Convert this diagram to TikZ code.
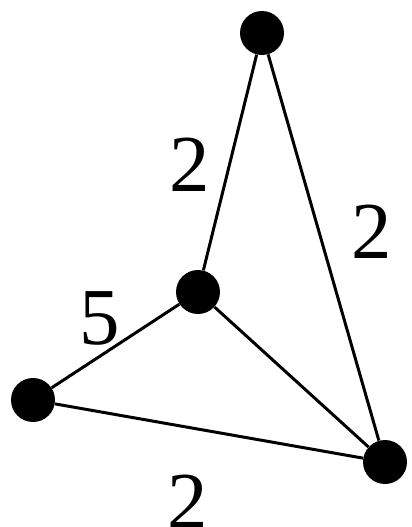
\documentclass[tikz,border=0pt]{standalone}
\usepackage{fontspec}
\setmainfont{Liberation Serif}
\usetikzlibrary{positioning}
\tikzset{
  vertexdot/.style={
    circle, fill=black, draw=none, inner sep=0pt, minimum size=0.88cm
  },
  graphedge/.style={line width=1.7pt, draw=black},
  weightlabel/.style={
    font=\fontsize{46}{46}\selectfont, inner sep=0pt
  }
}
\begin{document}
\begin{tikzpicture}[x=0.02cm, y=-0.02cm]
      \useasboundingbox (0,0) rectangle (412,527);
      \node[vertexdot] (apex) at (262,33) {};
      \node[vertexdot] (mid) at (198,292) {};
      \node[vertexdot] (left) at (33,400) {};
      \node[vertexdot] (corner) at (385,462) {};
      \draw[graphedge] (apex) -- (mid);
      \draw[graphedge] (apex) -- (corner);
      \draw[graphedge] (mid) -- (left);
      \draw[graphedge] (mid) -- (corner);
      \draw[graphedge] (left) -- (corner);
      \node[weightlabel] (wa) at (190,165) {2};
      \node[weightlabel] (wb) at (372,232) {2};
      \node[weightlabel] (wc) at (100,318) {5};
      \node[weightlabel] (wd) at (188,502) {2};
    \end{tikzpicture}
\end{document}
